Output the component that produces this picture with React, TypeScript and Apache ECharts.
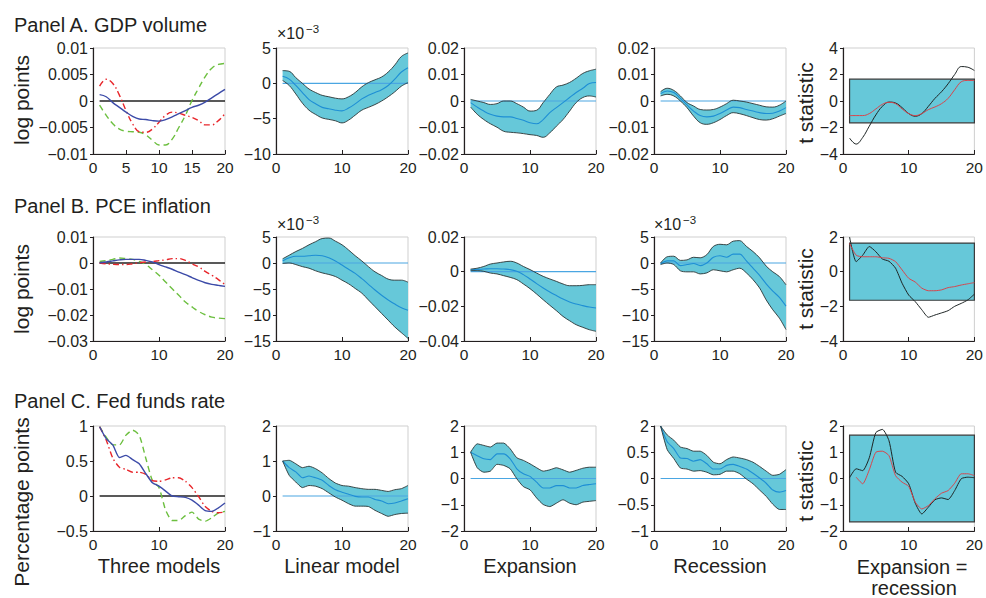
import React, { useEffect, useRef } from "react";
import * as echarts from "echarts";

// ---------------- data ----------------
const horizons = [1, 2, 3, 4, 5, 6, 7, 8, 9, 10, 11, 12, 13, 14, 15, 16, 17, 18, 19, 20];
const xCategories = ["0"].concat(horizons.map(String));
const tCrit = 1.65;

// Panel A. GDP volume
const gdpThreeLinear = [0.0012, 0.0008, -0.0003, -0.0012, -0.0021, -0.0029, -0.0034, -0.0035, -0.0037, -0.0038, -0.0035, -0.003, -0.0024, -0.0018, -0.0012, -0.0008, -0.0002, 0.0006, 0.0014, 0.0022];
const gdpThreeExpansion = [0.0028, 0.0041, 0.0033, 0.0011, -0.0018, -0.0043, -0.0058, -0.0059, -0.0053, -0.004, -0.0027, -0.0021, -0.0023, -0.0027, -0.0031, -0.0037, -0.0045, -0.0045, -0.0037, -0.0024];
const gdpThreeRecession = [-0.0008, -0.0027, -0.0043, -0.0053, -0.0057, -0.0058, -0.0059, -0.0064, -0.0074, -0.0083, -0.0083, -0.0072, -0.005, -0.0027, 0.0001, 0.0024, 0.0046, 0.0062, 0.0069, 0.0071];
const gdpLinHi = [1.8, 1.7, 0.8, 0.0, -0.8, -1.3, -1.7, -1.9, -2.1, -2.2, -1.9, -1.3, -0.5, 0.1, 0.5, 0.9, 1.6, 2.6, 3.8, 4.3];
const gdpLinMid = [1.0, 0.6, -0.3, -1.3, -2.3, -2.9, -3.4, -3.6, -3.8, -3.9, -3.5, -2.9, -2.2, -1.7, -1.3, -0.9, -0.3, 0.6, 1.6, 2.2];
const gdpLinLo = [0.4, -0.3, -1.5, -2.8, -3.8, -4.4, -4.9, -5.1, -5.3, -5.6, -5.2, -4.5, -3.8, -3.4, -3.0, -2.5, -1.9, -1.2, -0.4, 0.1];
const gdpExpHi = [0.0006, 0, -0.0006, -0.0013, -0.001, 0, 0, -0.001, -0.0023, -0.0038, -0.0035, -0.0006, 0.0025, 0.0053, 0.006, 0.007, 0.0086, 0.0104, 0.0114, 0.012];
const gdpExpMid = [-0.0006, -0.0023, -0.0038, -0.005, -0.0057, -0.006, -0.006, -0.0066, -0.0073, -0.0082, -0.0086, -0.007, -0.0044, -0.0025, -0.0006, 0.0013, 0.0032, 0.0048, 0.0066, 0.007];
const gdpExpLo = [-0.0023, -0.005, -0.007, -0.0086, -0.0099, -0.0114, -0.0118, -0.012, -0.0123, -0.0127, -0.013, -0.0137, -0.012, -0.0095, -0.007, -0.0038, -0.0006, 0.0013, 0.0019, 0.0015];
const gdpRecHi = [0.0035, 0.0048, 0.004, 0.0019, -0.0006, -0.0019, -0.0032, -0.0034, -0.0032, -0.0023, -0.001, 0.0003, 0, -0.0004, -0.001, -0.0016, -0.0022, -0.0023, -0.0016, 0];
const gdpRecMid = [0.0028, 0.0038, 0.0032, 0.001, -0.0015, -0.0038, -0.0055, -0.006, -0.0057, -0.0047, -0.0034, -0.0023, -0.0025, -0.0032, -0.0038, -0.0044, -0.0047, -0.0046, -0.0038, -0.0025];
const gdpRecLo = [0.0019, 0.0025, 0.0019, 0, -0.0025, -0.0057, -0.0082, -0.0088, -0.0082, -0.007, -0.0055, -0.0044, -0.0048, -0.0055, -0.0063, -0.007, -0.0072, -0.0067, -0.0057, -0.0047];
const gdpTBlack = [-2.8, -3.25, -2.75, -1.9, -1.05, -0.4, -0.08, -0.15, -0.5, -0.95, -1.15, -0.95, -0.4, 0.2, 0.7, 1.3, 2.0, 2.6, 2.55, 2.3];
const gdpTRed = [-1.1, -1.1, -1.1, -0.95, -0.6, -0.25, -0.1, -0.2, -0.6, -0.95, -1.1, -0.95, -0.65, -0.45, -0.2, 0.2, 0.85, 1.45, 1.55, 1.55];

// Panel B. PCE inflation
const pceThreeLinear = [0.0001, 0.0004, 0.0008, 0.0012, 0.0014, 0.0014, 0.0014, 0.001, 0.0004, -0.0006, -0.0015, -0.0024, -0.0035, -0.0045, -0.0056, -0.0067, -0.0076, -0.0082, -0.0086, -0.009];
const pceThreeExpansion = [0, -0.0003, -0.0005, -0.0006, -0.0006, -0.0003, 0.0001, 0.0004, 0.0006, 0.0009, 0.0012, 0.0017, 0.0017, 0.001, -0.0003, -0.0015, -0.0032, -0.0047, -0.0064, -0.0083];
const pceThreeRecession = [0.0006, 0.0009, 0.0014, 0.0019, 0.0017, 0.0014, 0.0006, -0.0006, -0.0026, -0.0047, -0.0073, -0.0099, -0.0124, -0.015, -0.0169, -0.0186, -0.0199, -0.0208, -0.0212, -0.0214];
const pceLinHi = [0.8, 1.5, 2.2, 2.8, 3.5, 4.1, 4.7, 4.8, 4.2, 3.5, 2.5, 1.4, 0.4, -0.7, -1.7, -2.4, -3.1, -3.3, -3.3, -3.7];
const pceLinMid = [0.4, 1.0, 1.3, 1.3, 1.4, 1.5, 1.4, 1.0, 0.4, -0.4, -1.2, -2.0, -3.0, -4.1, -5.2, -6.2, -7.1, -7.9, -8.6, -9.1];
const pceLinLo = [-0.1, 0, -0.3, -0.7, -1.0, -1.5, -1.9, -2.2, -2.6, -3.3, -4.0, -4.9, -5.8, -7.1, -8.4, -9.7, -11.0, -12.3, -13.4, -14.5];
const pceExpHi = [0.0015, 0.002, 0.003, 0.0044, 0.005, 0.0056, 0.006, 0.005, 0.003, 0.0012, -0.0008, -0.0027, -0.0042, -0.0056, -0.0071, -0.0081, -0.0081, -0.0079, -0.0075, -0.0075];
const pceExpMid = [0.001, 0.0013, 0.0015, 0.0017, 0.0017, 0.0015, 0.0012, 0.0002, -0.0017, -0.0042, -0.0069, -0.0094, -0.0117, -0.0138, -0.0158, -0.0175, -0.0187, -0.0196, -0.0204, -0.021];
const pceExpLo = [0.0006, 0.0006, 0.0002, -0.0008, -0.0013, -0.0023, -0.0033, -0.0046, -0.0071, -0.0098, -0.0129, -0.0162, -0.0194, -0.0225, -0.0258, -0.0283, -0.0306, -0.0321, -0.0335, -0.0344];
const pceRecHi = [0, 1.2, 1.3, 0.5, 0.6, 1.1, 1.0, 1.6, 3.2, 3.6, 3.5, 4.2, 4.3, 3.2, 2.2, 1.0, -0.6, -1.7, -2.6, -4.2];
const pceRecMid = [-0.2, 0.4, 0.4, -0.5, -0.3, -0.1, -0.5, 0, 1.1, 1.4, 1.1, 1.7, 1.7, 0.4, -1.0, -2.4, -4.0, -5.4, -6.6, -8.3];
const pceRecLo = [-0.3, 0, -0.3, -1.5, -1.7, -1.7, -2.1, -1.9, -1.3, -1.5, -1.7, -1.3, -1.0, -1.9, -3.2, -4.8, -7.1, -9.0, -10.6, -12.8];
const pceTBlack = [2.0, 0.58, 0.95, 1.45, 1.15, 0.73, 0.6, 0.2, -0.67, -1.35, -1.73, -2.2, -2.63, -2.5, -2.38, -2.25, -2.0, -1.83, -1.63, -1.3];
const pceTRed = [1.63, 0.95, 0.86, 0.86, 0.86, 0.8, 0.77, 0.58, 0.1, -0.38, -0.6, -0.95, -1.1, -1.1, -1.05, -0.92, -0.86, -0.77, -0.7, -0.63];

// Panel C. Fed funds rate
const ffThreeLinear = [0.99, 0.82, 0.73, 0.55, 0.58, 0.52, 0.46, 0.32, 0.19, 0.14, 0.07, 0, -0.01, -0.02, -0.06, -0.13, -0.21, -0.22, -0.17, -0.1];
const ffThreeExpansion = [0.99, 0.8, 0.54, 0.41, 0.38, 0.34, 0.34, 0.31, 0.22, 0.21, 0.23, 0.26, 0.26, 0.21, 0.12, -0.01, -0.15, -0.22, -0.24, -0.23];
const ffThreeRecession = [0.99, 0.84, 0.73, 0.73, 0.87, 0.94, 0.87, 0.54, 0.22, 0.12, -0.2, -0.35, -0.35, -0.28, -0.23, -0.33, -0.36, -0.31, -0.24, -0.22];
const ffLinHi = [1.0, 1.02, 0.92, 0.81, 0.85, 0.78, 0.66, 0.5, 0.37, 0.3, 0.28, 0.24, 0.21, 0.19, 0.19, 0.16, 0.13, 0.18, 0.21, 0.3];
const ffLinMid = [1.0, 0.81, 0.69, 0.52, 0.57, 0.52, 0.45, 0.3, 0.18, 0.11, 0.05, -0.01, -0.03, -0.03, -0.1, -0.14, -0.22, -0.2, -0.14, -0.08];
const ffLinLo = [1.0, 0.59, 0.4, 0.24, 0.3, 0.28, 0.21, 0.09, -0.03, -0.12, -0.22, -0.29, -0.29, -0.3, -0.41, -0.5, -0.58, -0.53, -0.5, -0.49];
const ffExpHi = [1.0, 1.32, 1.26, 1.2, 1.35, 1.35, 1.13, 0.79, 0.69, 0.56, 0.41, 0.28, 0.33, 0.41, 0.33, 0.24, 0.31, 0.39, 0.43, 0.43];
const ffExpMid = [1.0, 0.87, 0.75, 0.72, 0.94, 0.94, 0.75, 0.37, 0.18, 0.08, -0.14, -0.36, -0.36, -0.27, -0.27, -0.36, -0.36, -0.27, -0.23, -0.2];
const ffExpLo = [1.0, 0.41, 0.24, 0.28, 0.54, 0.5, 0.37, -0.01, -0.31, -0.43, -0.74, -0.99, -1.07, -0.94, -0.81, -0.94, -1.0, -0.9, -0.87, -0.84];
const ffRecHi = [1.0, 0.83, 0.73, 0.6, 0.57, 0.52, 0.52, 0.44, 0.31, 0.28, 0.36, 0.41, 0.39, 0.36, 0.31, 0.23, 0.14, 0.06, 0.08, 0.17];
const ffRecMid = [1.0, 0.7, 0.57, 0.39, 0.38, 0.33, 0.36, 0.28, 0.18, 0.18, 0.25, 0.27, 0.23, 0.18, 0.1, 0.01, -0.09, -0.22, -0.26, -0.23];
const ffRecLo = [1.0, 0.55, 0.38, 0.2, 0.18, 0.14, 0.15, 0.12, 0.07, 0.08, 0.14, 0.14, 0.09, -0.01, -0.1, -0.22, -0.34, -0.49, -0.59, -0.59];
const ffTBlack = [0.03, 0.37, 0.3, 0.79, 1.75, 1.87, 1.44, 0.24, 0.08, -0.2, -0.94, -1.35, -1.09, -0.81, -0.74, -0.8, -0.46, -0.01, 0.05, 0.03];
const ffTRed = [null, 0.05, -0.2, 0.33, 1.0, 1.04, 0.87, 0.11, -0.14, -0.3, -0.9, -1.16, -1.03, -0.77, -0.56, -0.46, -0.18, 0.18, 0.18, 0.11];

// tick values / labels printed on the recession fed-funds panel (as in the source figure)
const ffRecYTickValues = [-1, -0.5, 0, 0.5, 1];
const ffRecYTickLabels = ["\u22121", "\u22120.5", "0", "0.5", "2"];

const rowTitles = ["Panel A. GDP volume", "Panel B. PCE inflation", "Panel C. Fed funds rate"];
const rowYNames = ["log points", "log points", "Percentage points"];
const colNames = ["Three models", "Linear model", "Expansion", "Recession"];

// ---------------- styling ----------------
const FONT = '"Liberation Sans", Arial, Helvetica, sans-serif';
const TXT = "#231f20";
const CYAN = "#66c8d9";
const EDGE = "#2a3434";
const MID = "#1e8fd5";
const ZERO = "#4aa6e2";
const BLUE = "#3c4ba8";
const RED = "#e8262b";
const GREEN = "#6cbf3f";
const TRED = "#d8454c";

const colLeft = [93, 276, 464, 654, 843];
const colWidth = 132;
const rowTop = [48, 237, 426];
const rowHeight = [106, 104, 105];

type Panel =
  | { kind: "three"; lines: (number | null)[][]; y: number[]; xInt: number; yTicks?: number[]; yLabels?: string[]; smooth: number }
  | { kind: "band"; lo: number[]; mid: number[]; hi: number[]; y: number[]; xInt: number; yTicks?: number[]; yLabels?: string[]; smooth: number }
  | { kind: "tstat"; black: (number | null)[]; red: (number | null)[]; y: number[]; xInt: number; yTicks?: number[]; yLabels?: string[]; smooth: number };

const panels: Panel[] = [
  { kind: "three", lines: [gdpThreeLinear, gdpThreeExpansion, gdpThreeRecession], y: [-0.01, 0.01, 0.005], xInt: 5, smooth: 0.4 },
  { kind: "band", lo: gdpLinLo, mid: gdpLinMid, hi: gdpLinHi, y: [-10, 5, 5], xInt: 10, smooth: 0.4 },
  { kind: "band", lo: gdpExpLo, mid: gdpExpMid, hi: gdpExpHi, y: [-0.02, 0.02, 0.01], xInt: 10, smooth: 0.4 },
  { kind: "band", lo: gdpRecLo, mid: gdpRecMid, hi: gdpRecHi, y: [-0.02, 0.02, 0.01], xInt: 10, smooth: 0.4 },
  { kind: "tstat", black: gdpTBlack, red: gdpTRed, y: [-4, 4, 2], xInt: 10, smooth: 0.4 },
  { kind: "three", lines: [pceThreeLinear, pceThreeExpansion, pceThreeRecession], y: [-0.03, 0.01, 0.01], xInt: 10, smooth: 0.4 },
  { kind: "band", lo: pceLinLo, mid: pceLinMid, hi: pceLinHi, y: [-15, 5, 5], xInt: 10, smooth: 0.4 },
  { kind: "band", lo: pceExpLo, mid: pceExpMid, hi: pceExpHi, y: [-0.04, 0.02, 0.02], xInt: 10, smooth: 0.4 },
  { kind: "band", lo: pceRecLo, mid: pceRecMid, hi: pceRecHi, y: [-15, 5, 5], xInt: 10, smooth: 0.3 },
  { kind: "tstat", black: pceTBlack, red: pceTRed, y: [-4, 2, 2], xInt: 10, smooth: 0.2 },
  { kind: "three", lines: [ffThreeLinear, ffThreeExpansion, ffThreeRecession], y: [-0.5, 1, 0.5], xInt: 10, smooth: 0.2 },
  { kind: "band", lo: ffLinLo, mid: ffLinMid, hi: ffLinHi, y: [-1, 2, 1], xInt: 10, smooth: 0.2 },
  { kind: "band", lo: ffExpLo, mid: ffExpMid, hi: ffExpHi, y: [-2, 2, 1], xInt: 10, smooth: 0.2 },
  { kind: "band", lo: ffRecLo, mid: ffRecMid, hi: ffRecHi, y: [-1, 1, 0.5], xInt: 10, yTicks: ffRecYTickValues, yLabels: ffRecYTickLabels, smooth: 0.2 },
  { kind: "tstat", black: ffTBlack, red: ffTRed, y: [-2, 2, 1], xInt: 10, smooth: 0.2 },
];

function fmt(v: number): string {
  const r = Math.round(v * 1e6) / 1e6;
  if (r === 0) return "0";
  return String(r).replace("-", "\u2212");
}

// data row: [category name, value]
const pairs = (ys: (number | null)[]) => horizons.map((x, i) => [String(x), ys[i] == null ? null : ys[i]]);
const first = String(horizons[0]);
const last = String(horizons[horizons.length - 1]);

function buildOption() {
  const grid: any[] = [];
  const xAxis: any[] = [];
  const yAxis: any[] = [];
  const series: any[] = [];

  panels.forEach((p, idx) => {
    const r = Math.floor(idx / 5);
    const c = idx % 5;
    grid.push({
      left: colLeft[c], top: rowTop[r], width: colWidth, height: rowHeight[r],
      show: true, borderColor: "#cfcfcf", borderWidth: 1, backgroundColor: "transparent",
    });
    xAxis.push({
      type: "category", gridIndex: idx, data: xCategories, boundaryGap: false,
      axisLine: { onZero: false, lineStyle: { color: TXT, width: 1.2 } },
      axisTick: { inside: true, length: 4, interval: p.xInt - 1, lineStyle: { color: TXT, width: 1 } },
      axisLabel: { color: TXT, fontSize: 15.5, fontFamily: FONT, margin: 5, interval: p.xInt - 1 },
      splitLine: { show: false },
    });
    const yTicks = p.yTicks;
    const yLabels = p.yLabels;
    yAxis.push({
      type: "value", gridIndex: idx, min: p.y[0], max: p.y[1], interval: p.y[2],
      axisLine: { show: true, onZero: false, lineStyle: { color: TXT, width: 1.2 } },
      axisTick: { show: true, inside: false, length: 3, lineStyle: { color: TXT, width: 1 } },
      axisLabel: {
        color: TXT, fontSize: 16, fontFamily: FONT, margin: 5, hideOverlap: false,
        formatter: (v: number) => {
          if (yTicks && yLabels) {
            const k = yTicks.findIndex((t) => Math.abs(t - v) < 1e-9);
            if (k >= 0) return yLabels[k];
          }
          return fmt(v);
        },
      },
      splitLine: { show: false },
    });

    const base = { type: "line", xAxisIndex: idx, yAxisIndex: idx, symbol: "none", silent: true, smooth: p.smooth };
    const zeroLine = [[first, 0], [last, 0]];

    if (p.kind === "three") {
      series.push({ ...base, smooth: false, data: zeroLine, lineStyle: { color: "#222", width: 1.3 }, z: 2 });
      const styles = [
        { color: BLUE, width: 1.4, type: "solid" },
        { color: RED, width: 1.4, type: [6, 3, 1.5, 3] },
        { color: GREEN, width: 1.4, type: [6, 4] },
      ];
      p.lines.forEach((ys, k) => {
        series.push({ ...base, data: pairs(ys), lineStyle: styles[k], z: 3 + (2 - k) });
      });
    } else if (p.kind === "band") {
      const stack = "band" + idx;
      const diff = p.hi.map((h, i) => h - p.lo[i]);
      series.push({ ...base, stack, stackStrategy: "all", data: pairs(p.lo), lineStyle: { opacity: 0, width: 0 }, z: 2 });
      series.push({ ...base, stack, stackStrategy: "all", data: pairs(diff), lineStyle: { opacity: 0, width: 0 }, areaStyle: { color: CYAN, opacity: 1 }, z: 2 });
      series.push({ ...base, smooth: false, data: zeroLine, lineStyle: { color: ZERO, width: 1.2 }, z: 3 });
      series.push({ ...base, data: pairs(p.mid), lineStyle: { color: MID, width: 1.1 }, z: 4 });
      series.push({ ...base, data: pairs(p.hi), lineStyle: { color: EDGE, width: 0.9 }, z: 5 });
      series.push({ ...base, data: pairs(p.lo), lineStyle: { color: EDGE, width: 0.9 }, z: 5 });
    } else {
      series.push({
        type: "line", xAxisIndex: idx, yAxisIndex: idx, data: [], silent: true, z: 1,
        markArea: {
          silent: true,
          itemStyle: { color: CYAN, opacity: 1, borderColor: "#3a3a3a", borderWidth: 1.2 },
          data: [[{ coord: [horizons[0], -tCrit] }, { coord: [horizons[horizons.length - 1], tCrit] }]],
        },
      });
      series.push({ ...base, data: pairs(p.black), lineStyle: { color: "#1d2424", width: 1 }, z: 3 });
      series.push({ ...base, data: pairs(p.red), lineStyle: { color: TRED, width: 1 }, z: 4 });
    }
  });

  const txt = (text: string, x: number, y: number, size: number, extra: any = {}) => ({
    type: "text", x, y, silent: true,
    style: { text, fill: TXT, fontSize: size, fontFamily: FONT, align: extra.align || "left", verticalAlign: "middle" },
  });

  const graphic: any[] = [];
  const titleY = [25, 206, 401];
  rowTitles.forEach((t, r) => graphic.push(txt(t, 14, titleY[r], 20)));
  const yNameY = [100, 289, 502];
  rowYNames.forEach((t, r) => graphic.push({ ...txt(t, 21, yNameY[r], 21, { align: "center" }), rotation: Math.PI / 2 }));
  const tNameY = [103, 289, 481];
  tNameY.forEach((y) => graphic.push({ ...txt("t statistic", 805, y, 21, { align: "center" }), rotation: Math.PI / 2 }));
  // x10^-3 multipliers
  const mult = [[277, 33], [277, 224], [654, 224]];
  mult.forEach(([x, y]) => {
    graphic.push(txt("\u00d710", x, y, 16));
    graphic.push(txt("\u22123", x + 29, y - 4, 11.5));
  });
  colNames.forEach((t, c) => graphic.push(txt(t, colLeft[c] + colWidth / 2, 566, 20, { align: "center" })));
  graphic.push(txt("Expansion =", colLeft[4] + colWidth / 2 + 3, 567, 20, { align: "center" }));
  graphic.push(txt("recession", colLeft[4] + colWidth / 2 + 5, 588, 20, { align: "center" }));

  return { animation: false, grid, xAxis, yAxis, series, graphic };
}

export default function App() {
  const ref = useRef<HTMLDivElement>(null);
  useEffect(() => {
    document.body.style.margin = "0";
    const chart = echarts.init(ref.current as HTMLDivElement, null, { renderer: "svg" });
    chart.setOption(buildOption() as any);
    return () => chart.dispose();
  }, []);
  return <div ref={ref} style={{ width: 986, height: 598, background: "#fff" }} />;
}
